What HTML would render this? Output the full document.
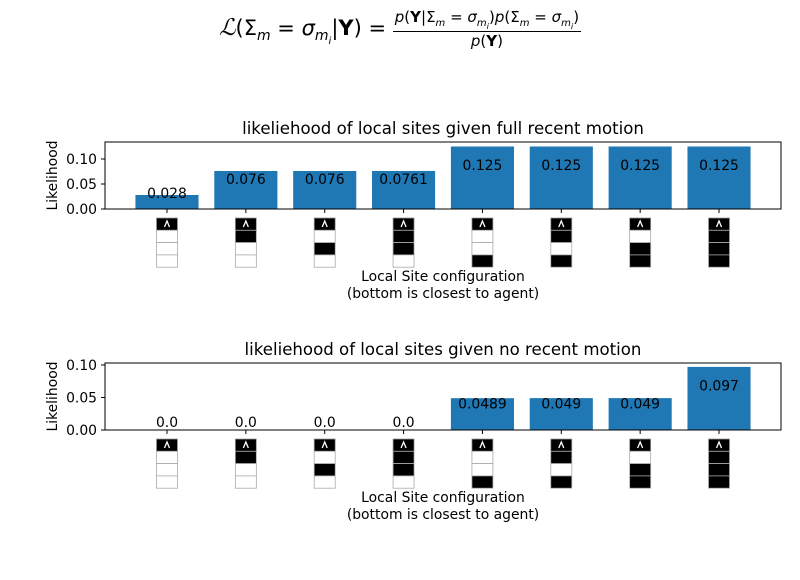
<!DOCTYPE html>
<html><head><meta charset="utf-8"><style>
body{margin:0;background:#fff;}
svg text{font-family:"DejaVu Sans","Liberation Sans",sans-serif;}
#formula{position:absolute;left:0;top:8px;width:800px;text-align:center;font-family:"DejaVu Sans",sans-serif;font-size:21px;}
</style></head><body>
<div id="formula">
<span style="font-style:italic;font-family:'Liberation Serif',serif;font-size:23px">ℒ</span>(Σ<sub style="font-size:14px;font-style:italic">m</sub> = <i>σ</i><sub style="font-size:14px;font-style:italic">m<sub style="font-size:10px">i</sub></sub>|<b>Y</b>) =
<span style="display:inline-block;vertical-align:middle;text-align:center;font-size:15px">
<span style="display:block;border-bottom:1px solid #000;padding:0 2px"><i>p</i>(<b>Y</b>|Σ<sub style="font-size:10px"><i>m</i></sub> = <i>σ</i><sub style="font-size:10px"><i>m<sub>i</sub></i></sub>)<i>p</i>(Σ<sub style="font-size:10px"><i>m</i></sub> = <i>σ</i><sub style="font-size:10px"><i>m<sub>i</sub></i></sub>)</span>
<span style="display:block"><i>p</i>(<b>Y</b>)</span></span>
</div>
<svg id="chart" width="800" height="575" xmlns="http://www.w3.org/2000/svg"></svg>
<script>
const categories = ["WWW","BWW","WBW","BBW","WWB","BWB","WBB","BBB"];
const motionValues = [0.028,0.076,0.076,0.0761,0.125,0.125,0.125,0.125];
const motionLabels = ["0.028","0.076","0.076","0.0761","0.125","0.125","0.125","0.125"];
const stillValues = [0.0,0.0,0.0,0.0,0.0489,0.049,0.049,0.097];
const stillLabels = ["0.0","0.0","0.0","0.0","0.0489","0.049","0.049","0.097"];
const yTicks = [0,0.05,0.10];
const yTickLabels = ["0.00","0.05","0.10"];

const NS="http://www.w3.org/2000/svg";
const svg=document.getElementById('chart');
const FS=13.9;
function mk(tag,attrs,parent){const e=document.createElementNS(NS,tag);for(const k in attrs)e.setAttribute(k,attrs[k]);(parent||svg).appendChild(e);return e;}

function panel(top,bottom,ymax,values,labels,title,key){
  const L=105,R=781;
  const g=mk('g',{});
  
  
  const xs=i=>L+(i+0.786)*((R-L)/8.572);
  const ys=v=>bottom-v*(bottom-top)/ymax;
  const bw=0.8*(R-L)/8.572;
  values.forEach((v,i)=>{
    const r=mk('rect',{x:xs(i)-bw/2,y:ys(v),width:bw,height:bottom-ys(v),fill:'#1f77b4'},g);
    
    
    const h=bottom-ys(v);
    const t=mk('text',{x:xs(i),y:bottom-8-0.58*h+5,'text-anchor':'middle','font-size':FS},g);
    t.textContent=labels[i];
    
    
  });
  const f=mk('rect',{x:L,y:top,width:R-L,height:bottom-top,fill:'none',stroke:'#000','stroke-width':1},g);
  
  
  yTicks.forEach((v,i)=>{
    if(v>ymax)return;
    mk('line',{x1:L-4,x2:L,y1:ys(v),y2:ys(v),stroke:'#000'},g);
    const t=mk('text',{x:L-8,y:ys(v)+5,'text-anchor':'end','font-size':FS},g);
    t.textContent=yTickLabels[i];
    
    
  });
  const yl=mk('text',{transform:`translate(57,${(top+bottom)/2}) rotate(-90)`,'text-anchor':'middle','font-size':FS},g);
  yl.textContent='Likelihood';
  
  
  const tt=mk('text',{x:(L+R)/2,y:top-8,'text-anchor':'middle','font-size':16.6},g);
  tt.textContent=title;
  
  
  categories.forEach((c,i)=>{
    const cx=xs(i);
    mk('line',{x1:cx,x2:cx,y1:bottom,y2:bottom+4,stroke:'#000'},g);
    const ic=mk('g',{},g);
    
    
    const y0=bottom+9, ch=12.3, w=21;
    mk('rect',{x:cx-w/2,y:y0,width:w,height:ch,fill:'#000',stroke:'#999','stroke-width':0.8},ic);
    mk('path',{d:`M${cx-2.5} ${y0+9} L${cx} ${y0+3} L${cx+2.5} ${y0+9}`,fill:'none',stroke:'#fff','stroke-width':1.3},ic);
    for(let k=0;k<3;k++){
      mk('rect',{x:cx-w/2,y:y0+ch*(k+1),width:w,height:ch,fill:c[k]==='B'?'#000':'#fff',stroke:'#aaa','stroke-width':0.8},ic);
    }
  });
  const x1=mk('text',{x:(L+R)/2,y:bottom+72,'text-anchor':'middle','font-size':FS},g);
  x1.textContent='Local Site configuration';
  
  
  const x2=mk('text',{x:(L+R)/2,y:bottom+89,'text-anchor':'middle','font-size':FS},g);
  x2.textContent='(bottom is closest to agent)';
  
  
}
panel(142,209,0.134,motionValues,motionLabels,'likeliehood of local sites given full recent motion','motion');
panel(363,430,0.103,stillValues,stillLabels,'likeliehood of local sites given no recent motion','still');
</script>
</body></html>
